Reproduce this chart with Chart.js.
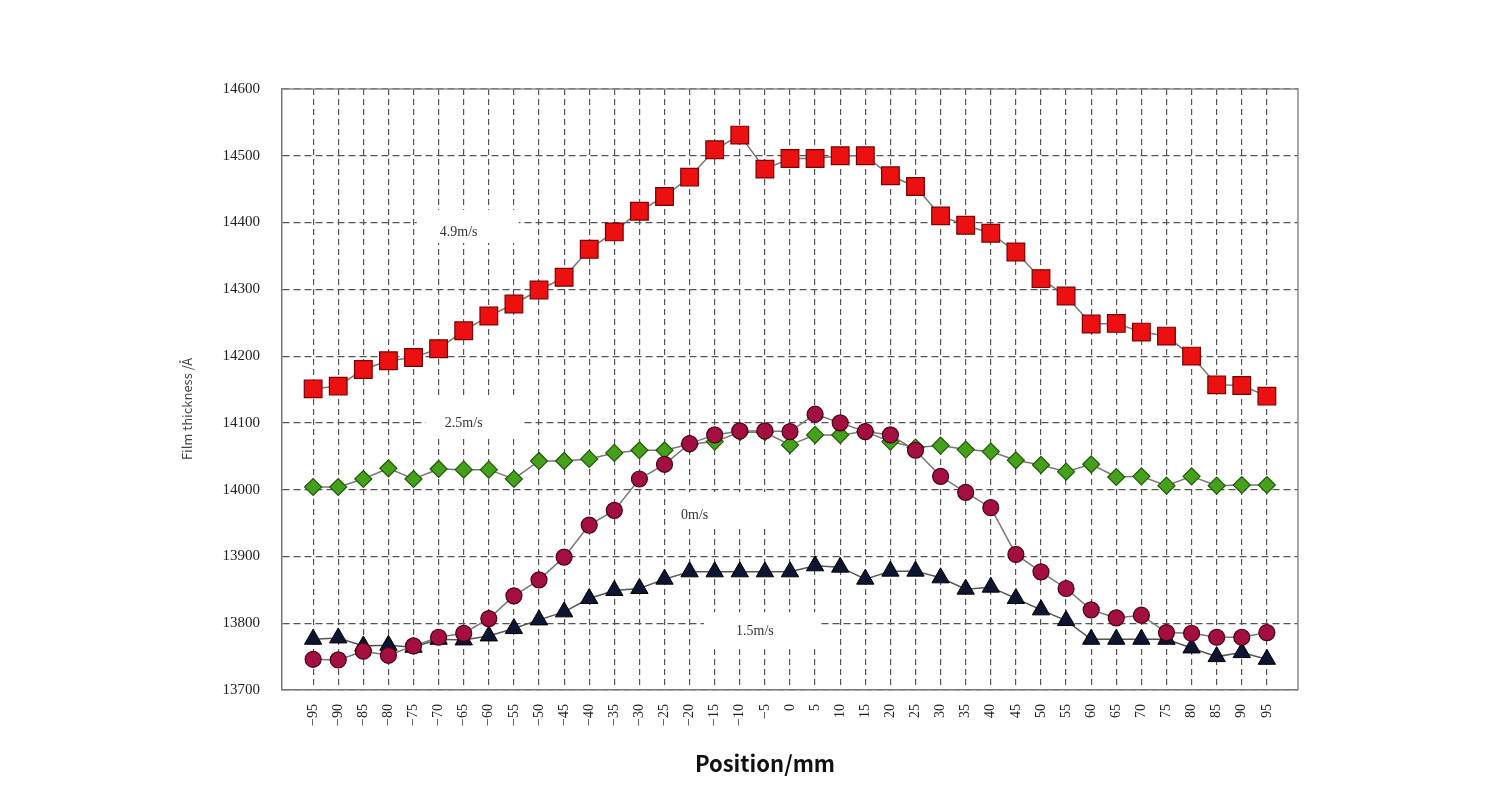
<!DOCTYPE html>
<html>
<head>
<meta charset="utf-8">
<script src="https://cdn.jsdelivr.net/npm/chart.js@4.4.1/dist/chart.umd.min.js"></script>
<style>
  html, body { margin: 0; padding: 0; background: #fff; }
</style>
</head>
<body>
<canvas id="film-chart" width="1500" height="800"></canvas>
<script>
// position along the substrate (mm)
const positions = [-95, -90, -85, -80, -75, -70, -65, -60, -55, -50, -45, -40, -35, -30, -25, -20, -15, -10, -5, 0,
    5, 10, 15, 20, 25, 30, 35, 40, 45, 50, 55, 60, 65, 70, 75, 80, 85, 90, 95];

// film thickness (Å) per speed
const thick49 = [14151, 14155, 14180, 14193, 14198, 14211, 14238, 14260, 14278, 14299, 14318, 14360, 14386, 14417, 14439, 14468, 14509, 14531, 14480, 14496,
    14496, 14500, 14500, 14470, 14454, 14410, 14396, 14384, 14356, 14316, 14290, 14248, 14249, 14236, 14230, 14200, 14157, 14156, 14140];
const thick25 = [14004, 14004, 14016, 14032, 14016, 14031, 14030, 14030, 14016, 14043, 14043, 14046, 14055, 14059, 14059, 14068, 14072, 14086, 14086, 14067,
    14082, 14082, 14087, 14072, 14063, 14066, 14060, 14057, 14044, 14037, 14027, 14038, 14019, 14020, 14006, 14020, 14006, 14007, 14007];
const thick0 = [13746, 13745, 13758, 13752, 13766, 13779, 13785, 13807, 13841, 13865, 13899, 13947, 13969, 14016, 14038, 14069, 14082, 14088, 14088, 14087,
    14113, 14100, 14087, 14082, 14059, 14020, 13996, 13973, 13903, 13877, 13852, 13820, 13808, 13812, 13786, 13785, 13779, 13779, 13786];
const thick15 = [13776, 13778, 13766, 13767, 13764, 13776, 13775, 13781, 13792, 13805, 13817, 13837, 13849, 13852, 13866, 13877, 13877, 13877, 13877, 13877,
    13886, 13884, 13866, 13878, 13878, 13868, 13851, 13854, 13837, 13820, 13804, 13776, 13776, 13776, 13776, 13763, 13750, 13756, 13746];

const speedLabels = ['4.9m/s', '2.5m/s', '0m/s', '1.5m/s'];
// where each speed label sits (mm, Å)
const labelX = [-66, -65, -19, -7];
const labelY = [14386, 14100, 13962, 13788];

const xTitle = 'Position/mm';
const yTitle = 'Film thickness /Å';

const serif = "'Liberation Serif', 'Times New Roman', serif";
const sans = "'Noto Sans CJK SC', 'Noto Sans', sans-serif";

function pts(arr) {
    return positions.map((x, i) => ({ x, y: arr[i] }));
}

// white boxes behind the in-plot labels, offsets around text centre (px)
const boxPad = [[42, 60, 22, 11], [38, 57, 27, 13], [22, 73, 23, 14], [51, 65, 19, 18]];

const framePlugin = {
    id: 'frame',
    beforeDatasetsDraw(chart) {
        const { ctx, scales } = chart;
        ctx.save();
        ctx.font = '14px ' + serif;
        ctx.textAlign = 'center';
        ctx.textBaseline = 'middle';
        speedLabels.forEach((t, i) => {
            const cx = scales.x.getPixelForValue(labelX[i]);
            const cy = scales.y.getPixelForValue(labelY[i]);
            const p = boxPad[i];
            ctx.fillStyle = '#fff';
            ctx.fillRect(cx - p[0], cy - p[2], p[0] + p[1], p[2] + p[3]);
            ctx.fillStyle = '#333';
            ctx.fillText(t, cx, cy);
        });
        ctx.restore();
    },
    afterDatasetsDraw(chart) {
        const { ctx, chartArea: a } = chart;
        ctx.save();
        ctx.strokeStyle = '#8a8a8a';
        ctx.lineWidth = 1.5;
        ctx.beginPath();
        ctx.moveTo(a.left, a.top);
        ctx.lineTo(a.right, a.top);
        ctx.lineTo(a.right, a.bottom);
        ctx.stroke();

        // axis titles
        ctx.textAlign = 'center';
        ctx.textBaseline = 'middle';
        ctx.fillStyle = '#111';
        ctx.font = '600 22px ' + sans;
        ctx.fillText(xTitle, a.left + 483, a.bottom + 74);
        ctx.fillStyle = '#444';
        ctx.font = '13px ' + sans;
        ctx.translate(a.left - 95, a.top + 320);
        ctx.rotate(-Math.PI / 2);
        ctx.fillText(yTitle, 0, 0);
        ctx.restore();
    }
};

new Chart(document.getElementById('film-chart'), {
    type: 'line',
    data: {
        datasets: [{
            label: '0m/s',
            data: pts(thick0),
            borderColor: '#777',
            borderWidth: 1.5,
            pointStyle: 'circle',
            pointRadius: 8,
            pointBackgroundColor: '#a3103f',
            pointBorderColor: '#4a0014',
            pointBorderWidth: 1.2,
        }, {
            label: '1.5m/s',
            data: pts(thick15),
            borderColor: '#555',
            borderWidth: 1.5,
            pointStyle: 'triangle',
            pointRadius: 10,
            pointBackgroundColor: '#0e1533',
            pointBorderColor: '#000',
            pointBorderWidth: 1,
        }, {
            label: '2.5m/s',
            data: pts(thick25),
            borderColor: '#777',
            borderWidth: 1.5,
            pointStyle: 'rectRot',
            pointRadius: 8.5,
            pointBackgroundColor: '#45a01b',
            pointBorderColor: '#1f5a06',
            pointBorderWidth: 1.2,
        }, {
            label: '4.9m/s',
            data: pts(thick49),
            borderColor: '#777',
            borderWidth: 1.5,
            pointStyle: 'rect',
            pointRadius: 12.5,
            pointBackgroundColor: '#ec1010',
            pointBorderColor: '#7a0000',
            pointBorderWidth: 1.2,
        }]
    },
    options: {
        responsive: false,
        animation: false,
        layout: { padding: { left: 170, right: 202, top: 89, bottom: 0 } },
        plugins: { legend: { display: false }, tooltip: { enabled: false } },
        scales: {
            x: {
                type: 'linear',
                min: -101.2,
                max: 101.2,
                afterBuildTicks: s => { s.ticks = positions.map(v => ({ value: v })); },
                afterFit: s => { s.height = 110; },
                ticks: {
                    autoSkip: false,
                    minRotation: 90,
                    maxRotation: 90,
                    padding: 14,
                    color: '#222',
                    font: { family: serif, size: 14 },
                    callback: v => String(v).replace('-', '\u2212')
                },
                grid: { color: '#555', lineWidth: 1.2, drawTicks: false },
                border: { color: '#777', width: 1.5, dash: [6, 4] }
            },
            y: {
                min: 13700,
                max: 14600,
                afterFit: s => { s.width = 112; },
                ticks: {
                    stepSize: 100,
                    padding: 22,
                    color: '#222',
                    font: { family: serif, size: 15 },
                    callback: v => String(v)
                },
                grid: { color: '#555', lineWidth: 1.2, drawTicks: false },
                border: { color: '#777', width: 1.5, dash: [7, 4] }
            }
        }
    },
    plugins: [framePlugin]
});
</script>
</body>
</html>
